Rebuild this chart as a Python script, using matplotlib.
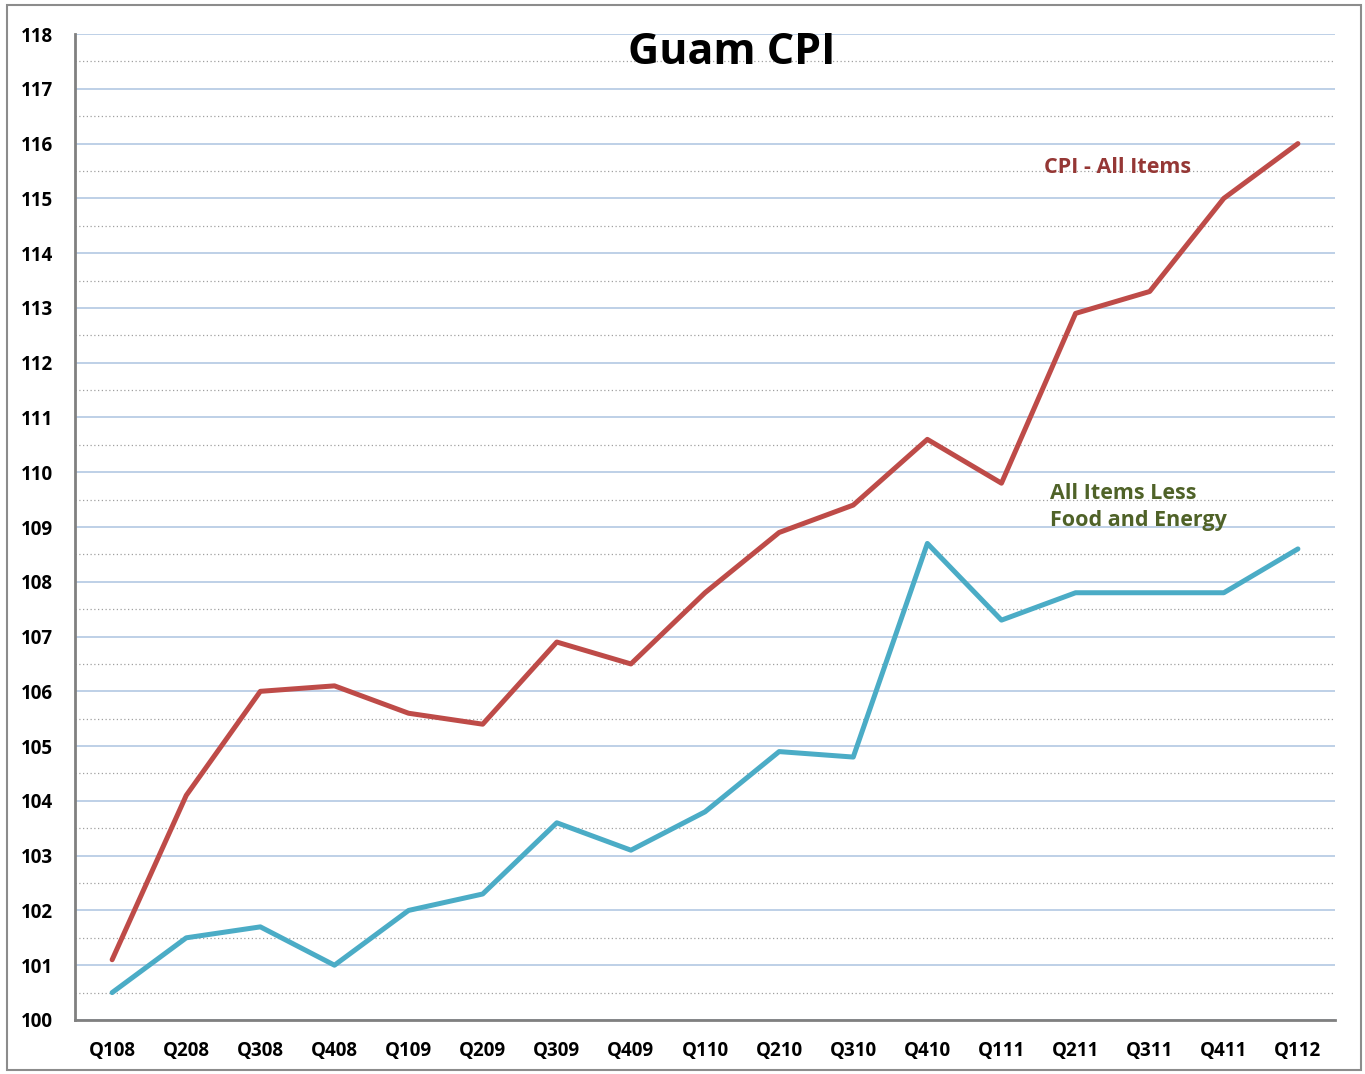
import numpy as np
import matplotlib.pyplot as plt
from matplotlib.patches import Rectangle
from matplotlib.ticker import MultipleLocator

plt.rcParams['font.family'] = ['Open Sans', 'DejaVu Sans']

quarters = ['Q108', 'Q208', 'Q308', 'Q408', 'Q109', 'Q209', 'Q309', 'Q409',
            'Q110', 'Q210', 'Q310', 'Q410', 'Q111', 'Q211', 'Q311', 'Q411', 'Q112']
cpi_all = [101.1, 104.1, 106.0, 106.1, 105.6, 105.4, 106.9, 106.5,
           107.8, 108.9, 109.4, 110.6, 109.8, 112.9, 113.3, 115.0, 116.0]
cpi_core = [100.5, 101.5, 101.7, 101.0, 102.0, 102.3, 103.6, 103.1,
            103.8, 104.9, 104.8, 108.7, 107.3, 107.8, 107.8, 107.8, 108.6]

fig = plt.figure(figsize=(13.65, 10.74), dpi=100)
ax = fig.add_axes([0.055, 0.0503, 0.923, 0.918])

x = np.arange(len(quarters))
ax.plot(x, cpi_all, color='#BE4B48', lw=3.6, solid_capstyle='round', zorder=3)
ax.plot(x, cpi_core, color='#4BACC6', lw=3.6, solid_capstyle='round', zorder=3)

ax.set_xlim(-0.5, len(quarters) - 0.5)
ax.set_ylim(100, 118)
ax.set_xticks(x)
ax.set_xticklabels(quarters)
ax.yaxis.set_major_locator(MultipleLocator(1))
ax.yaxis.set_minor_locator(MultipleLocator(0.5))
ax.tick_params(axis='both', which='both', length=0, labelsize=13.5)
ax.tick_params(axis='x', pad=15)
ax.tick_params(axis='y', pad=16)
for lbl in ax.get_xticklabels() + ax.get_yticklabels():
    lbl.set_fontweight('bold')

ax.grid(which='major', axis='y', color='#B9CDE5', lw=1.3)
ax.grid(which='minor', axis='y', color='#A0A0A0', lw=0.9, ls=(0, (1, 2)))
ax.set_axisbelow(True)

for side in ['top', 'right']:
    ax.spines[side].set_visible(False)
for side in ['left', 'bottom']:
    ax.spines[side].set_color('#808080')
    ax.spines[side].set_linewidth(2)

fig.text(0.536, 0.951, 'Guam CPI', ha='center', va='center',
         fontsize=31, fontweight='bold')
ax.text(13.57, 115.57, 'CPI - All Items', ha='center', va='center',
        fontsize=15.5, fontweight='bold', color='#953735')
ax.text(12.65, 109.36, 'All Items Less\nFood and Energy', ha='left', va='center',
        fontsize=15.5, fontweight='bold', color='#4F6228', linespacing=1.4)

fig.patches.append(Rectangle((0.005, 0.004), 0.992, 0.991, transform=fig.transFigure,
                             fill=False, edgecolor='#8C8C8C', lw=1.5))

fig.savefig('out.png', dpi=100)
